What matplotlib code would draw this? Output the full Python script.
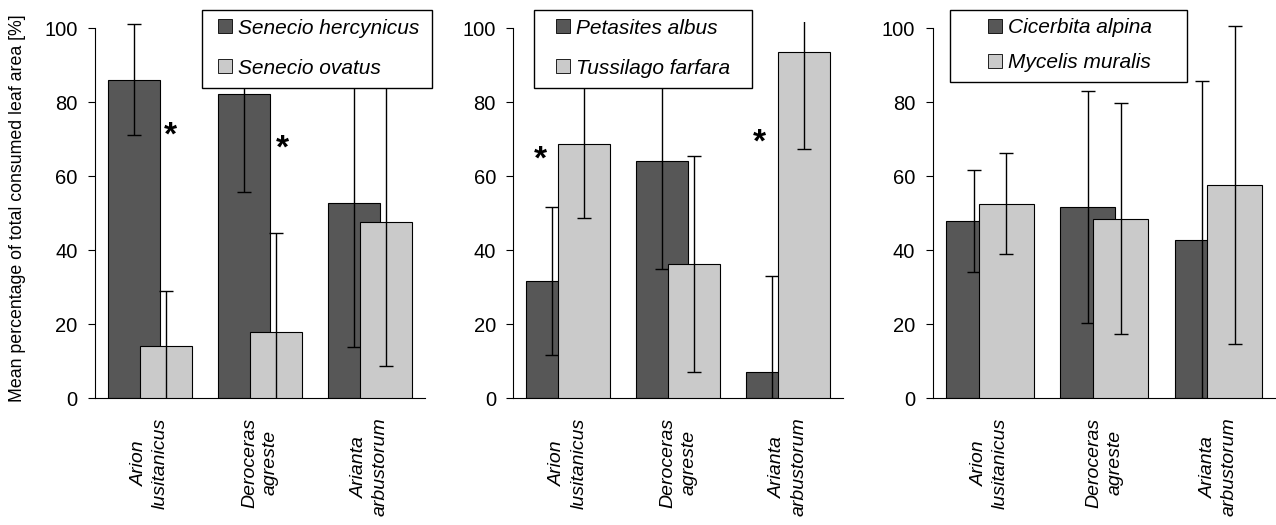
import matplotlib
matplotlib.use("Agg")
import matplotlib.pyplot as plt
from matplotlib.patches import Rectangle

plt.rcParams["font.family"] = ["Liberation Sans", "DejaVu Sans"]

# Slug species (x categories), shared by all panels
slugs = ["Arion\nlusitanicus", "Deroceras\nagreste", "Arianta\narbustorum"]

# Panel 1: Senecio
p1_names = ["Senecio hercynicus", "Senecio ovatus"]
p1_a = [86.0, 82.2, 52.8]
p1_a_err = [15.0, 26.4, 39.0]
p1_b = [14.0, 17.8, 47.7]
p1_b_err = [15.0, 26.7, 39.0]
p1_sig = [(0.19, 73.0), (1.20, 69.5)]

# Panel 2: Petasites / Tussilago
p2_names = ["Petasites albus", "Tussilago farfara"]
p2_a = [31.7, 64.1, 6.9]
p2_a_err = [20.0, 29.2, 26.0]
p2_b = [68.6, 36.3, 93.4]
p2_b_err = [20.0, 29.2, 26.0]
p2_sig = [(-0.25, 66.5), (1.74, 71.0)]

# Panel 3: Cicerbita / Mycelis
p3_names = ["Cicerbita alpina", "Mycelis muralis"]
p3_a = [47.8, 51.7, 42.8]
p3_a_err = [13.7, 31.3, 43.0]
p3_b = [52.5, 48.5, 57.6]
p3_b_err = [13.7, 31.3, 43.0]
p3_sig = []

DARK = "#575757"
LIGHT = "#cacaca"

W, H = 1276, 525
fig = plt.figure(figsize=(W / 100, H / 100), dpi=100)

y0_px, per_unit = 398.0, 3.7
ytop = 101.5


def make_axes(left_px, width_px):
    bottom = (H - y0_px) / H
    height = ytop * per_unit / H
    return fig.add_axes([left_px / W, bottom, width_px / W, height])


def draw_panel(ax, a, a_err, b, b_err, sig, width, off):
    x = list(range(len(slugs)))
    xa = [i - off for i in x]
    xb = [i + off for i in x]
    ax.bar(xa, a, width=width, color=DARK, edgecolor="black", linewidth=0.8, zorder=2)
    ax.errorbar(xa, a, yerr=a_err, fmt="none", ecolor="black", elinewidth=1.0,
                capsize=5, capthick=1.0, zorder=3)
    ax.bar(xb, b, width=width, color=LIGHT, edgecolor="black", linewidth=0.8, zorder=4)
    ax.errorbar(xb, b, yerr=b_err, fmt="none", ecolor="black", elinewidth=1.0,
                capsize=5, capthick=1.0, zorder=5)
    for sx, sy in sig:
        ax.annotate("*", xy=(sx, sy), xytext=(0, -12), textcoords="offset points",
                    ha="center", va="baseline", fontsize=24, fontweight="bold")
    ax.set_xlim(-0.5, len(slugs) - 0.5)
    ax.set_ylim(0, ytop)
    ax.set_yticks([0, 20, 40, 60, 80, 100])
    ax.set_xticks(x)
    ax.set_xticklabels(slugs, rotation=90, fontstyle="italic", fontsize=14,
                       linespacing=1.3)
    ax.tick_params(axis="x", length=0, pad=14)
    ax.tick_params(axis="y", length=5, width=0.8, pad=7.5, labelsize=14.5, direction="out")
    for s in ("top", "right"):
        ax.spines[s].set_visible(False)
    ax.spines["left"].set_bounds(0, 100)
    ax.spines["left"].set_linewidth(0.8)
    ax.spines["bottom"].set_linewidth(0.8)
    ax.set_facecolor("none")


def add_legend(names, box, anchor, gap):
    # box: (left, top, right, bottom) in pixels from the top-left corner
    l, t, r, b = box
    fig.patches.append(Rectangle((l / W, 1 - b / H), (r - l) / W, (b - t) / H,
                                 transform=fig.transFigure, facecolor="white",
                                 edgecolor="black", linewidth=1.0, zorder=6))
    handles = [Rectangle((0, 0), 1, 1, facecolor=DARK, edgecolor="black", linewidth=0.6),
               Rectangle((0, 0), 1, 1, facecolor=LIGHT, edgecolor="black", linewidth=0.6)]
    leg = fig.legend(handles, names, loc="upper left",
                     bbox_to_anchor=(anchor[0] / W, 1 - anchor[1] / H),
                     bbox_transform=fig.transFigure, frameon=False,
                     handlelength=0.65, handleheight=0.65, handletextpad=0.3,
                     labelspacing=gap, borderpad=0, borderaxespad=0,
                     prop={"style": "italic", "size": 15})
    leg.set_zorder(7)


ax1 = make_axes(95, 330)
draw_panel(ax1, p1_a, p1_a_err, p1_b, p1_b_err, p1_sig, 0.473, 0.145)
ax2 = make_axes(513.3, 330)
draw_panel(ax2, p2_a, p2_a_err, p2_b, p2_b_err, p2_sig, 0.473, 0.145)
ax3 = make_axes(932.7, 343)
draw_panel(ax3, p3_a, p3_a_err, p3_b, p3_b_err, p3_sig, 0.48, 0.143)

add_legend(p1_names, (202, 10, 432, 88), (218, 18.5), 1.02)
add_legend(p2_names, (534, 10, 752, 88), (556, 18.5), 1.02)
add_legend(p3_names, (950, 10, 1187, 82), (988, 18), 0.78)

fig.text(18 / W, 1 - 208 / H, "Mean percentage of total consumed leaf area [%]",
         rotation=90, ha="center", va="center", fontsize=12.8)

fig.savefig("out.png", dpi=100, facecolor="white")
